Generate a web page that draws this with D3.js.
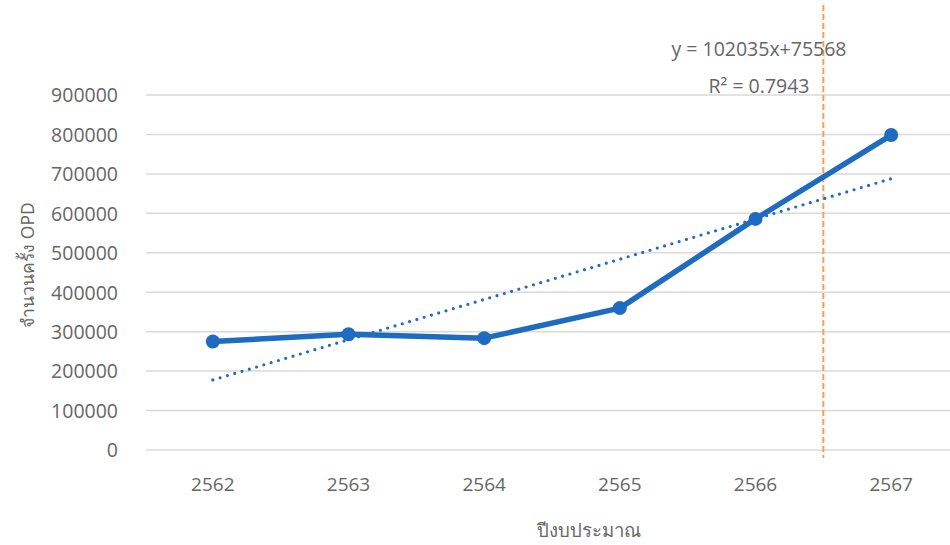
<!DOCTYPE html>
<html>
<head>
<meta charset="utf-8">
<script src="https://cdn.jsdelivr.net/npm/d3@7/dist/d3.min.js"></script>
<style>
  html, body { margin: 0; padding: 0; background: #fff; }
  svg { display: block; }
  text { font-family: "Open Sans", "Noto Sans", "DejaVu Sans", sans-serif; fill: #666666; }
</style>
</head>
<body>
<svg id="chart" width="950" height="545"></svg>
<script>
// Fiscal years (Buddhist era) and OPD visit counts
const years = ["2562", "2563", "2564", "2565", "2566", "2567"];
const opdVisits = [275000, 293500, 283500, 359700, 585900, 798500];

// Linear trendline as printed on the chart
const trendSlope = 102035;
const trendIntercept = 75568;
const trendLabel = "y = 102035x+75568";
const r2Label = "R² = 0.7943";

// Value axis ticks
const yTicks = [0, 100000, 200000, 300000, 400000, 500000, 600000, 700000, 800000, 900000];

// Year at whose left boundary the reference divider is drawn
const dividerYear = "2567";

const yTitle = "จำนวนครั้ง OPD";
const xTitle = "ปีงบประมาณ";

const svg = d3.select("#chart");

const x = d3.scaleBand().domain(years).range([145, 959]).padding(0);
const y = d3.scaleLinear().domain([0, 900000]).range([450, 95]);
const cx = d => x(d) + x.bandwidth() / 2;

// Horizontal gridlines
svg.append("g")
  .selectAll("line")
  .data(yTicks)
  .join("line")
  .attr("x1", 146).attr("x2", 950)
  .attr("y1", d => y(d)).attr("y2", d => y(d))
  .attr("stroke", "#d9d9d9")
  .attr("stroke-width", 1.5);

// Y axis labels
const yAxis = d3.axisLeft(y).tickValues(yTicks).tickFormat(d3.format("d")).tickSize(0).tickPadding(0);
const gy = svg.append("g").attr("transform", "translate(118,0)").call(yAxis);
gy.select(".domain").remove();
gy.selectAll("text")
  .attr("font-size", 19.5)
  .attr("font-family", null)
  .attr("fill", "#666666")
  .attr("dy", "0.35em");

// X axis labels
const xAxis = d3.axisBottom(x).tickSize(0).tickPadding(0);
const gx = svg.append("g").attr("transform", "translate(0,477)").call(xAxis);
gx.select(".domain").remove();
gx.selectAll("text")
  .attr("font-size", 19)
  .attr("font-family", null)
  .attr("fill", "#666666")
  .attr("dy", "0.71em");

// Vertical dashed divider
svg.append("line")
  .attr("x1", x(dividerYear)).attr("x2", x(dividerYear))
  .attr("y1", 5).attr("y2", 458)
  .attr("stroke", "#F4A15D")
  .attr("stroke-width", 2)
  .attr("stroke-dasharray", "6 3");

// Trendline (dotted)
const trendData = years.map((yr, i) => ({ yr, v: trendSlope * (i + 1) + trendIntercept }));
svg.append("path")
  .datum(trendData)
  .attr("fill", "none")
  .attr("stroke", "#1F6BBF")
  .attr("stroke-width", 3.2)
  .attr("stroke-linecap", "round")
  .attr("stroke-dasharray", "0 7.6")
  .attr("d", d3.line().x(d => cx(d.yr)).y(d => y(d.v)));

// Main data line
const series = years.map((yr, i) => ({ yr, v: opdVisits[i] }));
svg.append("path")
  .datum(series)
  .attr("fill", "none")
  .attr("stroke", "#1F6BBF")
  .attr("stroke-width", 5.5)
  .attr("stroke-linejoin", "round")
  .attr("d", d3.line().x(d => cx(d.yr)).y(d => y(d.v)));

svg.append("g")
  .selectAll("circle")
  .data(series)
  .join("circle")
  .attr("cx", d => cx(d.yr))
  .attr("cy", d => y(d.v))
  .attr("r", 7)
  .attr("fill", "#1F6BBF");

// Trendline equation and R²
svg.append("text")
  .attr("x", 759).attr("y", 56)
  .attr("text-anchor", "middle")
  .attr("font-size", 19.5)
  .text(trendLabel);
svg.append("text")
  .attr("x", 759).attr("y", 93)
  .attr("text-anchor", "middle")
  .attr("font-size", 19.5)
  .text(r2Label);

// Axis titles
svg.append("text")
  .attr("transform", "translate(34,265) rotate(-90)")
  .attr("text-anchor", "middle")
  .attr("font-size", 17.5)
  .text(yTitle);

svg.append("text")
  .attr("x", 589).attr("y", 537)
  .attr("text-anchor", "middle")
  .attr("font-size", 18.5)
  .text(xTitle);
</script>
</body>
</html>
